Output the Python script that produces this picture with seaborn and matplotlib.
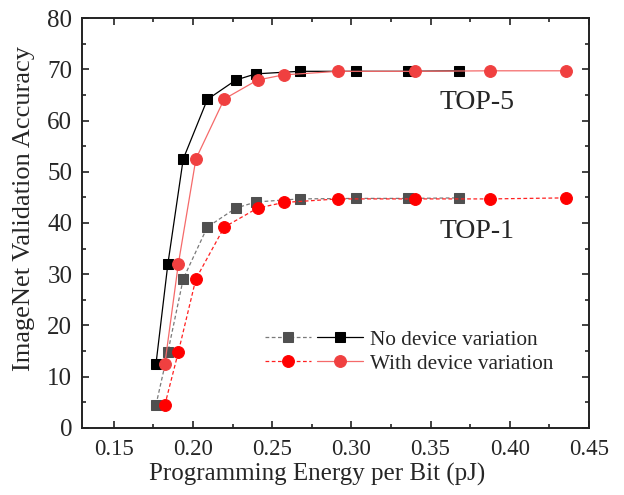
import matplotlib
matplotlib.use("Agg")
import matplotlib.pyplot as plt
from matplotlib.legend_handler import HandlerTuple
from matplotlib.ticker import MultipleLocator
import seaborn as sns
import numpy as np

# Data
x_nodev = [0.1767, 0.1842, 0.1939, 0.2091, 0.2271, 0.2397, 0.2673, 0.3030, 0.3358, 0.3677]
x_dev = [0.1823, 0.1908, 0.2019, 0.2198, 0.2408, 0.2572, 0.2917, 0.3400, 0.3877, 0.4352]
top5_nodev = [12.5, 32.0, 52.5, 64.1, 67.9, 69.1, 69.6, 69.6, 69.6, 69.7]
top5_dev = [12.5, 32.0, 52.5, 64.2, 67.9, 68.9, 69.6, 69.6, 69.7, 69.7]
top1_nodev = [4.5, 14.8, 29.1, 39.2, 42.9, 44.1, 44.7, 44.8, 44.8, 44.9]
top1_dev = [4.5, 14.8, 29.1, 39.2, 42.9, 44.0, 44.7, 44.7, 44.7, 44.9]
legend_labels = ["No device variation", "With device variation"]
annotations = ["TOP-5", "TOP-1"]

sns.set_style("ticks")
plt.rcParams["font.family"] = ["Liberation Serif", "DejaVu Serif"]

fig = plt.figure(figsize=(6.24, 4.95), dpi=100)
ax = fig.add_axes([0.1314, 0.1354, 0.8125, 0.8282])

dash = (0, (3, 2))
sns.lineplot(x=x_nodev, y=top1_nodev, ax=ax, color="#7a7a7a", lw=0.9,
             linestyle=dash, marker="s", markersize=7.5, markerfacecolor="#505050",
             markeredgecolor="#505050", sort=False)
sns.lineplot(x=x_dev, y=top1_dev, ax=ax, color="#ff2020", lw=0.9,
             linestyle=dash, marker="o", markersize=8.5, markerfacecolor="#ff0000",
             markeredgecolor="#ff0000", sort=False)
sns.lineplot(x=x_nodev, y=top5_nodev, ax=ax, color="#000000", lw=0.9,
             marker="s", markersize=7.5, markerfacecolor="#000000",
             markeredgecolor="#000000", sort=False)
sns.lineplot(x=x_dev, y=top5_dev, ax=ax, color="#f56a6a", lw=0.9,
             marker="o", markersize=8.5, markerfacecolor="#f04040",
             markeredgecolor="#f04040", sort=False)

lines = ax.get_lines()
h_top1_nodev, h_top1_dev, h_top5_nodev, h_top5_dev = lines[0], lines[1], lines[2], lines[3]

ax.set_xlim(0.13, 0.45)
ax.set_ylim(0, 80)
ax.xaxis.set_major_locator(MultipleLocator(0.05))
ax.xaxis.set_minor_locator(MultipleLocator(0.025))
ax.yaxis.set_major_locator(MultipleLocator(10))
ax.yaxis.set_minor_locator(MultipleLocator(5))
ax.xaxis.set_major_formatter(matplotlib.ticker.FormatStrFormatter("%.2f"))
ax.tick_params(which="both", direction="in", top=True, right=True,
               width=1.2, color="#222222")
ax.tick_params(axis="x", labelsize=16.5, pad=8)
ax.tick_params(axis="y", labelsize=18, pad=7)
ax.tick_params(which="major", length=5)
ax.tick_params(which="minor", length=3)
for s in ax.spines.values():
    s.set_linewidth(1.4)
    s.set_color("#222222")
    s.set_visible(True)

ax.set_xlabel("Programming Energy per Bit (pJ)", fontsize=18, labelpad=0)
ax.xaxis.set_label_coords(0.463, -0.085)
ax.set_ylabel("ImageNet Validation Accuracy", fontsize=19, labelpad=2)
ax.yaxis.set_label_coords(-0.093, 0.535)

ax.text(0.3795, 63.6, annotations[0], fontsize=20, ha="center", va="center")
ax.text(0.3795, 38.4, annotations[1], fontsize=20, ha="center", va="center")

ax.legend(handles=[(h_top1_nodev, h_top5_nodev), (h_top1_dev, h_top5_dev)],
          labels=legend_labels,
          handler_map={tuple: HandlerTuple(ndivide=None, pad=0.3)},
          handlelength=4.6, handletextpad=0.3, labelspacing=0.2,
          frameon=False, fontsize=15.3, loc="upper left",
          bbox_to_anchor=(0.345, 0.26), borderaxespad=0)

fig.savefig("out.png", dpi=100)
